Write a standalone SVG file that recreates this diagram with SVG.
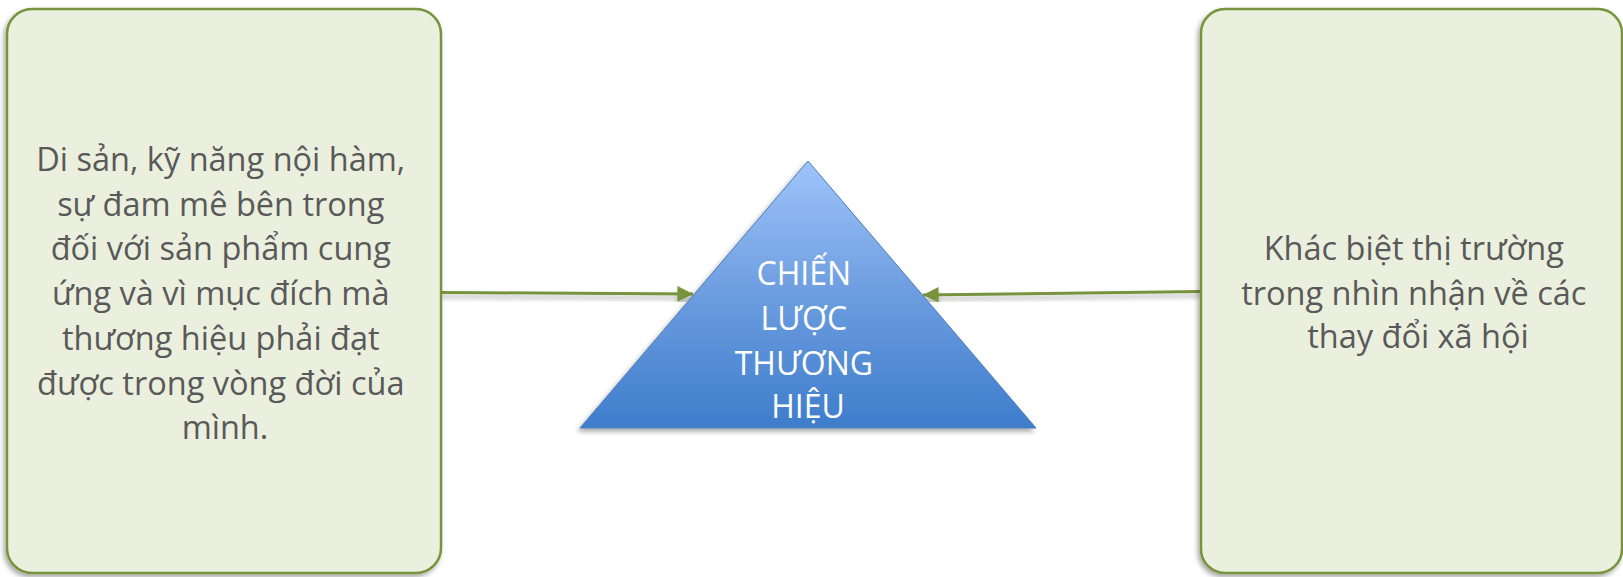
<svg xmlns="http://www.w3.org/2000/svg" width="1623" height="577" viewBox="0 0 1623 577">
<defs>
<style>
.box{fill:#EBF0DE;stroke:#77933C;stroke-width:2.5}
.txt{font-family:"Open Sans","Noto Sans",sans-serif;font-size:32.5px;fill:#595959;text-anchor:middle}
.tri-txt{font-family:"Open Sans","Noto Sans",sans-serif;font-size:32px;fill:#FFFFFF;text-anchor:middle}
.conn{stroke:#77933C;stroke-width:3;fill:none}
</style>
<linearGradient id="triGrad" x1="0" y1="0" x2="0" y2="1">
<stop offset="0" stop-color="#9FC4FA"/>
<stop offset="0.5" stop-color="#6C9DE0"/>
<stop offset="1" stop-color="#3E7DCB"/>
</linearGradient>
<filter id="shadow" x="-10%" y="-10%" width="120%" height="120%">
<feDropShadow dx="-2" dy="3" stdDeviation="2.5" flood-color="#000" flood-opacity="0.35"/>
</filter>
<filter id="lshadow" x="-5%" y="-200%" width="110%" height="500%">
<feDropShadow dx="0" dy="4" stdDeviation="2.5" flood-color="#000" flood-opacity="0.3"/>
</filter>
<marker id="arrow" viewBox="0 0 10 10" refX="10" refY="5" markerWidth="5.2" markerHeight="5.2" orient="auto" markerUnits="strokeWidth">
<path d="M0,0 L10,5 L0,10 Z" fill="#77933C"/>
</marker>
</defs>
<rect width="1623" height="577" fill="#FFFFFF"/>
<g id="connectors" filter="url(#lshadow)">
<line class="conn" x1="441" y1="292.5" x2="693" y2="294" marker-end="url(#arrow)"/>
<line class="conn" x1="1201" y1="291.5" x2="923" y2="295" marker-end="url(#arrow)"/>
</g>
<g id="node-left">
<rect class="box" x="7" y="9" width="434" height="564" rx="25" ry="25" filter="url(#shadow)"/>
<text class="txt">
<tspan x="225" y="170.7">Di sản, kỹ năng nội hàm,</tspan>
<tspan x="225" y="215.5">sự đam mê bên trong</tspan>
<tspan x="225" y="260.3">đối với sản phẩm cung</tspan>
<tspan x="225" y="305">ứng và vì mục đích mà</tspan>
<tspan x="225" y="349.8">thương hiệu phải đạt</tspan>
<tspan x="225" y="394.6">được trong vòng đời của</tspan>
<tspan x="225" y="439.4">mình.</tspan>
</text>
</g>
<g id="node-right">
<rect class="box" x="1201" y="9" width="421" height="564" rx="24" ry="24" filter="url(#shadow)"/>
<text class="txt">
<tspan x="1418" y="260">Khác biệt thị trường</tspan>
<tspan x="1418" y="305">trong nhìn nhận về các</tspan>
<tspan x="1418" y="348">thay đổi xã hội</tspan>
</text>
</g>
<g id="node-center">
<polygon points="808,161 1036,428 580,428" fill="url(#triGrad)" stroke="#4A7EBB" stroke-width="1" filter="url(#shadow)"/>
<text class="tri-txt">
<tspan x="808" y="285">CHIẾN</tspan>
<tspan x="808" y="330">LƯỢC</tspan>
<tspan x="808" y="375">THƯƠNG</tspan>
<tspan x="808" y="418">HIỆU</tspan>
</text>
</g>
</svg>
